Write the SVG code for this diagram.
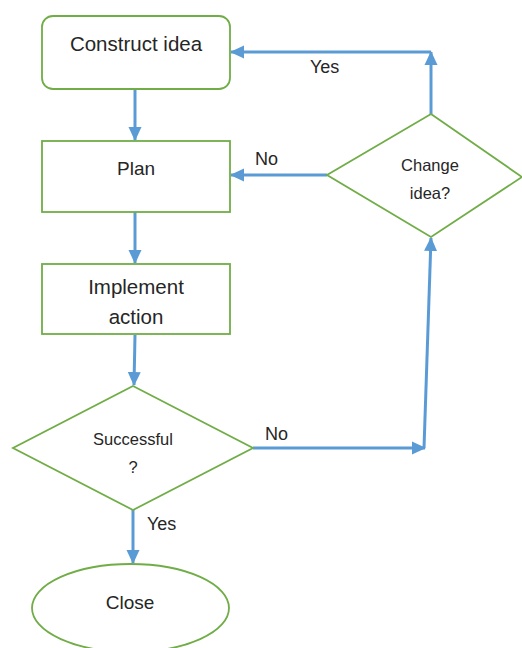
<svg xmlns="http://www.w3.org/2000/svg" width="522" height="648" viewBox="0 0 522 648">
<style>
.shape{fill:#ffffff;stroke:#70ad47;stroke-width:1.8}
.conn{fill:none;stroke:#5b9bd5;stroke-width:3}
.t{font-family:"Liberation Sans",Arial,sans-serif;fill:#262626;text-anchor:middle}
.big{font-size:19px}
.small{font-size:16.5px}
.lbl{font-family:"Liberation Sans",Arial,sans-serif;fill:#262626;font-size:18px}
</style>
<defs>
<marker id="ah" markerUnits="userSpaceOnUse" markerWidth="14" markerHeight="14" viewBox="0 0 14 14" refX="13" refY="7" orient="auto">
<path d="M0,0.5 L14,7 L0,13.5 Z" fill="#5b9bd5"/>
</marker>
</defs>
<rect width="522" height="648" fill="#ffffff"/>
<g id="connectors">
<line class="conn" x1="135" y1="89" x2="135" y2="140" marker-end="url(#ah)"/>
<line class="conn" x1="135" y1="212" x2="135" y2="263" marker-end="url(#ah)"/>
<line class="conn" x1="135" y1="335" x2="134" y2="385" marker-end="url(#ah)"/>
<line class="conn" x1="133" y1="510" x2="133" y2="563" marker-end="url(#ah)"/>
<line class="conn" x1="253" y1="448" x2="425" y2="448" marker-end="url(#ah)"/>
<line class="conn" x1="424" y1="448" x2="431" y2="238" marker-end="url(#ah)"/>
<line class="conn" x1="327" y1="175" x2="231" y2="175" marker-end="url(#ah)"/>
<line class="conn" x1="431" y1="114" x2="431" y2="52" marker-end="url(#ah)"/>
<line class="conn" x1="431" y1="52" x2="231" y2="52" marker-end="url(#ah)"/>
<text class="lbl" x="310" y="73">Yes</text>
<text class="lbl" x="255" y="165">No</text>
<text class="lbl" x="265" y="440">No</text>
<text class="lbl" x="147" y="530">Yes</text>
</g>
<g id="construct">
<rect class="shape" x="42" y="16" width="188" height="73" rx="11" ry="11"/>
<text class="t" style="font-size:20.5px" x="136" y="51">Construct idea</text>
</g>
<g id="plan">
<rect class="shape" x="42" y="141" width="188" height="71"/>
<text class="t big" x="136" y="175">Plan</text>
</g>
<g id="implement">
<rect class="shape" x="42" y="264" width="188" height="70"/>
<text class="t" style="font-size:20.5px" x="136" y="294">Implement</text>
<text class="t" style="font-size:20.5px" x="136" y="324">action</text>
</g>
<g id="successful">
<polygon class="shape" points="133,386 253,448 133,510 13,448"/>
<text class="t small" x="133" y="445">Successful</text>
<text class="t small" x="133" y="473">?</text>
</g>
<g id="change">
<polygon class="shape" points="431,114 522,177 431,237 327,175"/>
<text class="t small" x="430" y="171">Change</text>
<text class="t small" x="430" y="199">idea?</text>
</g>
<g id="close">
<ellipse class="shape" cx="130.5" cy="608" rx="98.5" ry="44"/>
<text class="t big" x="130" y="609">Close</text>
</g>
</svg>
